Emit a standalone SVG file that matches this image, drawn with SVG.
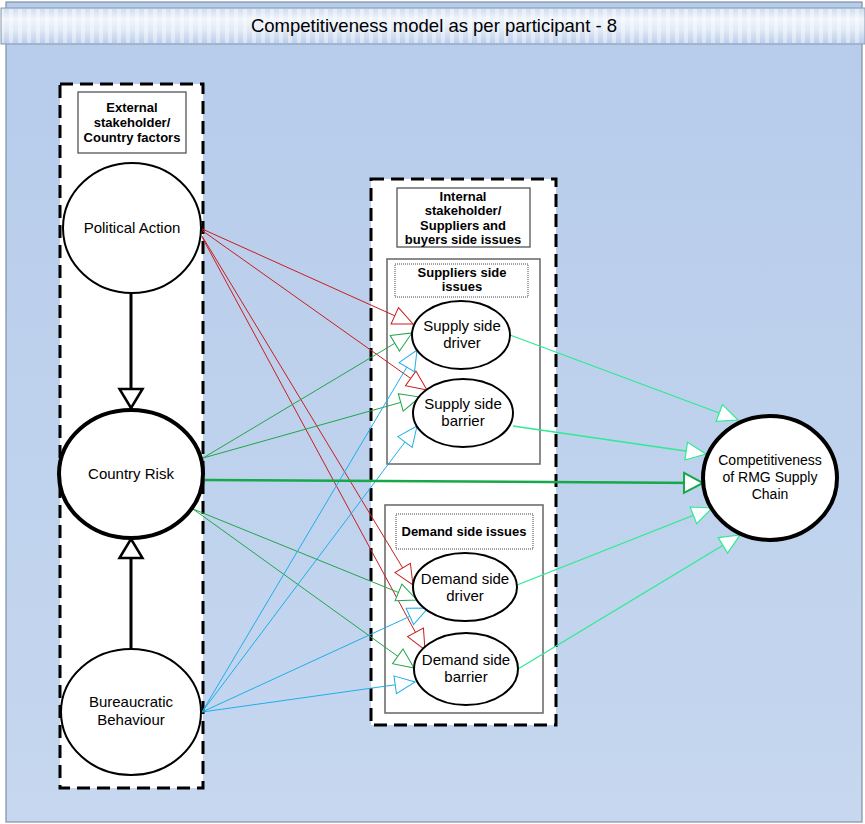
<svg xmlns="http://www.w3.org/2000/svg" width="865" height="824" viewBox="0 0 865 824">
<defs>
<linearGradient id="bg" x1="0" y1="0" x2="0" y2="1">
<stop offset="0" stop-color="#B6CCEB"/>
<stop offset="1" stop-color="#C6D7EF"/>
</linearGradient>
<linearGradient id="ban" x1="0" y1="0" x2="0" y2="1">
<stop offset="0" stop-color="#CCDBF0"/>
<stop offset="0.3" stop-color="#F0F5FB"/>
<stop offset="0.6" stop-color="#E2EAF6"/>
<stop offset="1" stop-color="#B9CDEA"/>
</linearGradient>
<pattern id="stripes" width="9" height="36" patternUnits="userSpaceOnUse">
<rect x="0" y="0" width="4" height="36" fill="#FFFFFF" opacity="0.4"/>
</pattern>
<marker id="aR" viewBox="-3 -12 26 24" refX="20" refY="0" markerWidth="26" markerHeight="24" markerUnits="userSpaceOnUse" orient="auto"><path d="M0,-9 L20,0 L0,9 Z" fill="#fff" stroke="#C81E1E" stroke-width="1"/></marker>
<marker id="aG" viewBox="-3 -12 26 24" refX="20" refY="0" markerWidth="26" markerHeight="24" markerUnits="userSpaceOnUse" orient="auto"><path d="M0,-9 L20,0 L0,9 Z" fill="#fff" stroke="#1FA64A" stroke-width="1"/></marker>
<marker id="aB" viewBox="-3 -12 26 24" refX="20" refY="0" markerWidth="26" markerHeight="24" markerUnits="userSpaceOnUse" orient="auto"><path d="M0,-9 L20,0 L0,9 Z" fill="#fff" stroke="#1EADEB" stroke-width="1"/></marker>
<marker id="aL" viewBox="-3 -12 26 24" refX="20" refY="0" markerWidth="26" markerHeight="24" markerUnits="userSpaceOnUse" orient="auto"><path d="M0,-9 L20,0 L0,9 Z" fill="#fff" stroke="#2EEA92" stroke-width="1.2"/></marker>
<marker id="aT" viewBox="-4 -13 26 26" refX="19" refY="0" markerWidth="26" markerHeight="26" markerUnits="userSpaceOnUse" orient="auto"><path d="M0,-10 L19,0 L0,10 Z" fill="#fff" stroke="#16A84A" stroke-width="2"/></marker>
<marker id="aK" viewBox="-4 -15 26 30" refX="19" refY="0" markerWidth="26" markerHeight="30" markerUnits="userSpaceOnUse" orient="auto"><path d="M0,-11.5 L19,0 L0,11.5 Z" fill="#fff" stroke="#000" stroke-width="2.5"/></marker>
</defs>
<style>
.node{fill:#fff;stroke:#000;stroke-width:2}
.thick{stroke-width:4}
.t{font-family:"Liberation Sans",Arial,sans-serif;font-size:15px;fill:#000;text-anchor:middle}
.b{font-family:"Liberation Sans",Arial,sans-serif;font-size:13px;font-weight:bold;fill:#000;text-anchor:middle}
.dash{fill:#fff;stroke:#000;stroke-width:3;stroke-dasharray:13 7}
.lbl{fill:#fff;stroke:#555;stroke-width:1.3}
.dot{fill:#fff;stroke:#444;stroke-width:1;stroke-dasharray:1 1}
.sub{fill:#fff;stroke:#6E6E6E;stroke-width:1.6}
.r{stroke:#C81E1E;stroke-width:1;fill:none;marker-end:url(#aR)}
.g{stroke:#1FA64A;stroke-width:1;fill:none;marker-end:url(#aG)}
.bl{stroke:#1EADEB;stroke-width:1;fill:none;marker-end:url(#aB)}
.lg{stroke:#2EEA92;stroke-width:1.3;fill:none;marker-end:url(#aL)}
.tg{stroke:#16A84A;stroke-width:2.5;fill:none;marker-end:url(#aT)}
.k{stroke:#000;stroke-width:3;fill:none;marker-end:url(#aK)}
</style>

<!-- background panel -->
<rect x="6" y="2" width="856" height="820" fill="url(#bg)" stroke="#7F8FA6" stroke-width="1.2"/>
<!-- title banner -->
<g id="title">
<rect x="1" y="8" width="864" height="36" fill="url(#ban)" stroke="#8A9AB0" stroke-width="1"/>
<rect x="2" y="9" width="862" height="34" fill="url(#stripes)"/>
<text x="434" y="32" font-family="'Liberation Sans',Arial,sans-serif" font-size="18.5" text-anchor="middle" fill="#000">Competitiveness model as per participant - 8</text>
</g>

<!-- containers -->
<g id="external-group">
<rect class="dash" x="60" y="84" width="143" height="704"/>
<rect class="lbl" x="78" y="92" width="108" height="61"/>
<text class="b" x="132" y="112">External</text>
<text class="b" x="132" y="127">stakeholder/</text>
<text class="b" x="132" y="142">Country factors</text>
</g>

<g id="internal-group">
<rect class="dash" x="371" y="179" width="185" height="546"/>
<rect class="lbl" x="397" y="188" width="133" height="59"/>
<text class="b" x="463" y="201">Internal</text>
<text class="b" x="463" y="215">stakeholder/</text>
<text class="b" x="463" y="230">Suppliers and</text>
<text class="b" x="463" y="244">buyers side issues</text>
</g>

<g id="suppliers-group">
<rect class="sub" x="387" y="259" width="153" height="205"/>
<rect class="dot" x="395" y="264" width="133" height="33"/>
<text class="b" x="462" y="277">Suppliers side</text>
<text class="b" x="462" y="291">issues</text>
</g>

<g id="demand-group">
<rect class="sub" x="385" y="505" width="158" height="208"/>
<rect class="dot" x="396" y="514" width="137" height="35"/>
<text class="b" x="464" y="536">Demand side issues</text>
</g>

<!-- connectors -->
<g id="connectors">
<line class="k" x1="131" y1="293" x2="131" y2="408"/>
<line class="k" x1="131" y1="649" x2="131" y2="539"/>

<line class="r" x1="200" y1="228" x2="413" y2="324"/>
<line class="r" x1="200" y1="229" x2="427" y2="390"/>
<line class="r" x1="202" y1="236" x2="413" y2="585"/>
<line class="r" x1="202" y1="237" x2="425" y2="650"/>

<line class="g" x1="203" y1="458" x2="412" y2="333"/>
<line class="g" x1="203" y1="458" x2="420" y2="397"/>
<line class="g" x1="193" y1="509" x2="417" y2="600"/>
<line class="g" x1="193" y1="509" x2="414" y2="668"/>

<line class="bl" x1="202" y1="712" x2="417" y2="350"/>
<line class="bl" x1="202" y1="712" x2="417" y2="426"/>
<line class="bl" x1="202" y1="712" x2="428" y2="608"/>
<line class="bl" x1="202" y1="712" x2="415" y2="682"/>

<line class="tg" x1="204" y1="480" x2="703" y2="483"/>

<line class="lg" x1="510" y1="335" x2="738" y2="420"/>
<line class="lg" x1="513" y1="426" x2="706" y2="454"/>
<line class="lg" x1="517" y1="585" x2="712" y2="508"/>
<line class="lg" x1="518" y1="669" x2="740" y2="535"/>
</g>

<!-- nodes -->
<g id="political-action">
<ellipse class="node" cx="132" cy="228" rx="69" ry="65"/>
<text class="t" x="132" y="233">Political Action</text>
</g>
<g id="country-risk">
<ellipse class="node thick" cx="131" cy="474" rx="72" ry="64"/>
<text class="t" x="131" y="479">Country Risk</text>
</g>
<g id="bureaucratic-behaviour">
<ellipse class="node" cx="131" cy="712" rx="70" ry="63"/>
<text class="t" x="131" y="707">Bureaucratic</text>
<text class="t" x="131" y="725">Behaviour</text>
</g>
<g id="supply-side-driver">
<ellipse class="node" cx="461" cy="335" rx="49" ry="34"/>
<text class="t" x="462" y="331">Supply side</text>
<text class="t" x="462" y="348">driver</text>
</g>
<g id="supply-side-barrier">
<ellipse class="node" cx="463" cy="413" rx="50" ry="34"/>
<text class="t" x="463" y="409">Supply side</text>
<text class="t" x="463" y="426">barrier</text>
</g>
<g id="demand-side-driver">
<ellipse class="node" cx="465" cy="587" rx="52" ry="34"/>
<text class="t" x="465" y="584">Demand side</text>
<text class="t" x="465" y="601">driver</text>
</g>
<g id="demand-side-barrier">
<ellipse class="node" cx="466" cy="669" rx="52" ry="36"/>
<text class="t" x="466" y="665">Demand side</text>
<text class="t" x="466" y="682">barrier</text>
</g>
<g id="competitiveness">
<ellipse class="node thick" cx="770" cy="478" rx="67" ry="62"/>
<text class="t" x="770" y="465" style="font-size:14px">Competitiveness</text>
<text class="t" x="770" y="482" style="font-size:14px">of RMG Supply</text>
<text class="t" x="770" y="499" style="font-size:14px">Chain</text>
</g>
</svg>
